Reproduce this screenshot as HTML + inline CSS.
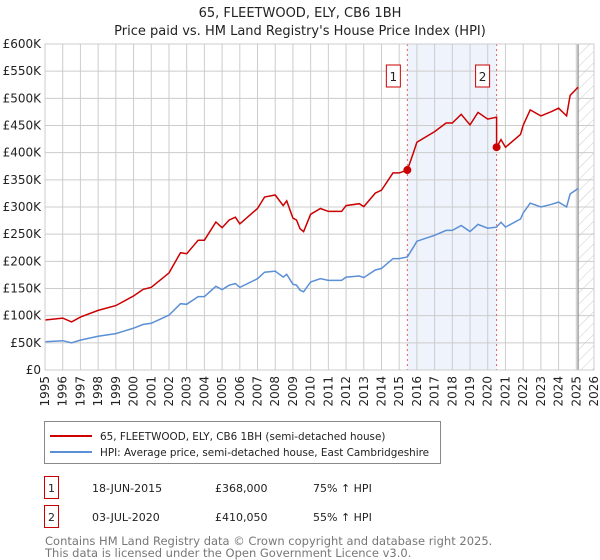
<!DOCTYPE html>
<html><head><meta charset="utf-8"><style>
body{margin:0;background:#fff;font-family:"Liberation Sans","DejaVu Sans",sans-serif;}
#wrap{position:relative;width:600px;height:560px;overflow:hidden}
svg text{font-family:"DejaVu Sans","Liberation Sans",sans-serif}
</style></head><body><div id="wrap">
<svg id="chart" width="600" height="560"></svg>
</div>
<script>
const hpiYears=[1995,1996,1996.5,1997,1998,1999,2000,2000.55,2001,2002,2002.65,2003,2003.65,2004,2004.65,2005,2005.4,2005.75,2006,2007,2007.4,2008,2008.45,2008.65,2009,2009.2,2009.6,2009.4,2010,2010.55,2011,2011.75,2012,2012.75,2013,2013.65,2014,2014.65,2015,2015.46,2015.8,2016,2017,2017.65,2018,2018.5,2019,2019.45,2020,2020.5,2020.75,2021,2021.85,2022,2022.4,2023,2023.6,2024,2024.45,2024.65,2025.1];
const hpiValues=[52,54,50,55,62,67,77,84,86,101,122,121,135,135,154,148,156,159,152,168,180,182,171,176,158,156,144,147,162,168,165,165,171,173,170,184,187,205,205,208,226,237,248,257,257,266,255,268,261,263,272,263,278,289,307,300,305,309,300,324,334];
const saleYears=[2015.46,2020.5];
const salePrices=[368000,410050];
const yTicks=[0,50,100,150,200,250,300,350,400,450,500,550,600];
const xTicks=[1995,1996,1997,1998,1999,2000,2001,2002,2003,2004,2005,2006,2007,2008,2009,2010,2011,2012,2013,2014,2015,2016,2017,2018,2019,2020,2021,2022,2023,2024,2025,2026];
const NS="http://www.w3.org/2000/svg",svg=document.getElementById('chart');
const X0=45,X1=594,Y0=370,Y1=44;
const xs=y=>X0+(y-1995)/31*(X1-X0);
const ys=v=>Y0-v/600*(Y0-Y1);
function mk(t,a,p){const e=document.createElementNS(NS,t);for(const k in a)e.setAttribute(k,a[k]);(p||svg).appendChild(e);return e;}
const idx=hpiYears.map((y,i)=>i).sort((a,b)=>hpiYears[a]-hpiYears[b]);
const HY=idx.map(i=>hpiYears[i]),HV=idx.map(i=>hpiValues[i]);
function hpiAt(y){for(let i=1;i<HY.length;i++)if(y<=HY[i]){const t=(y-HY[i-1])/(HY[i]-HY[i-1]);return HV[i-1]+t*(HV[i]-HV[i-1]);}return HV[HV.length-1];}
let t=mk('text',{x:300,y:17,'text-anchor':'middle','font-size':13,fill:'#222'});t.textContent='65, FLEETWOOD, ELY, CB6 1BH';

t=mk('text',{x:300,y:35,'text-anchor':'middle','font-size':13,fill:'#222'});t.textContent="Price paid vs. HM Land Registry's House Price Index (HPI)";

let r=mk('rect',{x:xs(saleYears[0]),y:Y1,width:xs(saleYears[1])-xs(saleYears[0]),height:Y0-Y1,fill:'#eef3fc'});

const defs=mk('defs',{});const pat=mk('pattern',{id:'h',width:8,height:8,patternUnits:'userSpaceOnUse',patternTransform:'rotate(45)'},defs);
mk('line',{x1:0,y1:0,x2:0,y2:8,stroke:'#ccc','stroke-width':1},pat);
r=mk('rect',{x:xs(2025.1),y:Y1,width:X1-xs(2025.1),height:Y0-Y1,fill:'url(#h)'});

yTicks.forEach(v=>{const l=mk('line',{x1:X0,x2:X1,y1:ys(v),y2:ys(v),stroke:'#ccc'});
 const tx=mk('text',{x:X0-4,y:ys(v)+4,'text-anchor':'end','font-size':12,fill:'#222'});tx.textContent=v?'£'+v+'K':'£0';
 });
xTicks.forEach(y=>{const l=mk('line',{x1:xs(y),x2:xs(y),y1:Y1,y2:Y0,stroke:'#ccc'});
 const tx=mk('text',{x:0,y:0,'text-anchor':'end','font-size':12,fill:'#222',transform:`translate(${xs(y)+4},${Y0+6}) rotate(-90)`});tx.textContent=y;
 });
let vl=mk('line',{x1:xs(2025.1),x2:xs(2025.1),y1:Y1,y2:Y0,stroke:'#888','stroke-width':1.2});

saleYears.forEach((y,i)=>{const l=mk('line',{x1:xs(y),x2:xs(y),y1:Y1,y2:Y0,stroke:'#e06060','stroke-dasharray':'2,3'});
 });
const hpts=HY.map((y,i)=>xs(y).toFixed(1)+','+ys(HV[i]).toFixed(1)).join(' ');
let p=mk('polyline',{points:hpts,fill:'none',stroke:'#5b8fd6','stroke-width':1.5});

const f1=salePrices[0]/1000/hpiAt(saleYears[0]),f2=salePrices[1]/1000/hpiAt(saleYears[1]);
let rp=[];HY.forEach((y,i)=>{if(y<saleYears[1]){rp.push([y,HV[i]*f1]);}});
rp.push([saleYears[1]-0.001,hpiAt(saleYears[1])*f1]);
rp.push([saleYears[1],salePrices[1]/1000]);
HY.forEach((y,i)=>{if(y>saleYears[1])rp.push([y,HV[i]*f2]);});
p=mk('polyline',{points:rp.map(a=>xs(a[0]).toFixed(1)+','+ys(a[1]).toFixed(1)).join(' '),fill:'none',stroke:'#cc0000','stroke-width':1.5});

saleYears.forEach((y,i)=>{const c=mk('circle',{cx:xs(y),cy:ys(salePrices[i]/1000),r:4,fill:'#cc0000'});
 
 const b=mk('rect',{x:xs(y)-21,y:65,width:14,height:22,fill:'#fff',stroke:'#cc0000'});
 
 const tx=mk('text',{x:xs(y)-14,y:81,'text-anchor':'middle','font-size':12,fill:'#222'});tx.textContent=i+1;
 });
let ax=mk('rect',{x:X0,y:Y1,width:X1-X0,height:Y0-Y1,fill:'none',stroke:'#ccc'});

const lg=mk('g',{});
mk('rect',{x:44.5,y:421.5,width:396,height:42,fill:'#fff',stroke:'#888'},lg);
mk('line',{x1:50,x2:92,y1:436,y2:436,stroke:'#cc0000','stroke-width':2},lg);
mk('line',{x1:50,x2:92,y1:452,y2:452,stroke:'#5b8fd6','stroke-width':2},lg);
t=mk('text',{x:100,y:440,'font-size':10.4,fill:'#222'},lg);t.textContent='65, FLEETWOOD, ELY, CB6 1BH (semi-detached house)';

t=mk('text',{x:100,y:456,'font-size':10.4,fill:'#222'},lg);t.textContent='HPI: Average price, semi-detached house, East Cambridgeshire';

const rows=[['18-JUN-2015','£368,000','75% ↑ HPI'],['03-JUL-2020','£410,050','55% ↑ HPI']];
rows.forEach((rw,i)=>{const yy=476+i*29;
 const b=mk('rect',{x:44.5,y:yy+0.5,width:14,height:22,fill:'#fff',stroke:'#cc0000'});
 let tt=mk('text',{x:51.5,y:yy+16,'text-anchor':'middle','font-size':11,fill:'#222'});tt.textContent=i+1;
 [[92,rw[0],'sale-date'],[215,rw[1],'sale-price'],[313,rw[2],'sale-hpi-change']].forEach(c=>{const e=mk('text',{x:c[0],y:yy+16,'font-size':11,fill:'#222'});e.textContent=c[1];
  });});
t=mk('text',{x:45,y:545,'font-size':11.5,fill:'#777'});t.textContent='Contains HM Land Registry data © Crown copyright and database right 2025.';

t=mk('text',{x:45,y:557,'font-size':11.5,fill:'#777'});t.textContent='This data is licensed under the Open Government Licence v3.0.';

</script></body></html>
